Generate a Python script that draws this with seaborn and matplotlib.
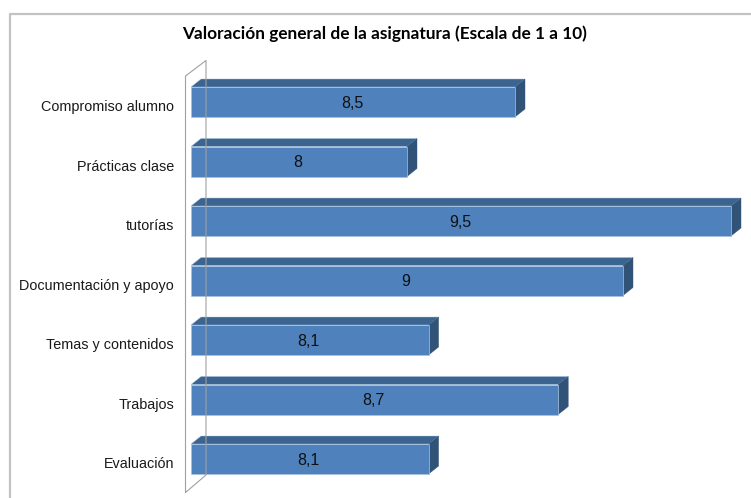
import numpy as np
import pandas as pd
import seaborn as sns
import matplotlib.pyplot as plt
from matplotlib.lines import Line2D
from matplotlib.patches import Polygon
from matplotlib.transforms import ScaledTranslation

categorias = ['Compromiso alumno', 'Prácticas clase', 'tutorías', 'Documentación y apoyo',
              'Temas y contenidos', 'Trabajos', 'Evaluación']
valores = [8.5, 8, 9.5, 9, 8.1, 8.7, 8.1]
etiquetas = ['8,5', '8', '9,5', '9', '8,1', '8,7', '8,1']
titulo = 'Valoración general de la asignatura (Escala de 1 a 10)'

W, H = 751, 498
X_MIN = 7
PX_POR_UNIDAD = 216.0
PX_POR_CATEGORIA = 59.5
DX, DY = 10, 8   # profundidad del efecto 3D en pixeles

FRENTE = '#4f81bd'
ARRIBA = '#3c6491'
LADO = '#325378'
BORDE = '#a9c2e0'
GRIS = '#a0a0a0'

sns.set_theme(style='white')
plt.rcParams['font.family'] = ['Liberation Sans']

fig = plt.figure(figsize=(W / 100, H / 100), dpi=100)

# eje colocado en pixeles: x=7 cae en 191 y las categorias cada 59.5 px
izq, der = 191, W
arriba, abajo = 102 - PX_POR_CATEGORIA / 2, 459 + PX_POR_CATEGORIA / 2
ax = fig.add_axes([izq / W, 1 - abajo / H, (der - izq) / W, (abajo - arriba) / H])
ax.patch.set_alpha(0)

def fig_line(xs, ys, color=GRIS, lw=1.0):
    fig.add_artist(Line2D([x / W for x in xs], [1 - y / H for y in ys],
                          color=color, lw=lw, solid_capstyle='butt'))

# marco exterior y pared del grafico
fig_line([10, 10, W], [H, 14, 14], color='#c2c2c2', lw=1.6)
fig_line([185.5, 185.5, 206, 206, 185.5], [492.5, 76, 60.5, 475, 492.5], lw=0.8)

df = pd.DataFrame({'categoria': categorias, 'valor': valores})
sns.barplot(data=df, x='valor', y='categoria', color=FRENTE, saturation=1,
            width=30 / PX_POR_CATEGORIA, ax=ax, zorder=3)
ax.set_xlim(X_MIN, X_MIN + (der - izq) / PX_POR_UNIDAD)
ax.set_ylim(len(categorias) - 0.5, -0.5)

dx = DX / PX_POR_UNIDAD
dy = DY / PX_POR_CATEGORIA
for p, v, txt in zip(ax.patches, valores, etiquetas):
    p.set_x(X_MIN)
    p.set_width(v - X_MIN)
    p.set_edgecolor(BORDE)
    p.set_linewidth(0.5)
    y0, y1 = p.get_y(), p.get_y() + p.get_height()
    # cara superior y lateral
    ax.add_patch(Polygon([(X_MIN, y0), (X_MIN + dx, y0 - dy), (v + dx, y0 - dy), (v, y0)],
                         facecolor=ARRIBA, edgecolor=BORDE, lw=0.3, clip_on=False, zorder=2))
    ax.add_patch(Polygon([(v, y0), (v + dx, y0 - dy), (v + dx, y1 - dy), (v, y1)],
                         facecolor=LADO, edgecolor=LADO, lw=0.3, clip_on=False, zorder=2))
    ax.annotate(txt, ((X_MIN + v) / 2, (y0 + y1) / 2), xytext=(-1, -1), textcoords='offset pixels',
                ha='center', va='center', fontsize=11.5, color='#101010', zorder=4)

ax.set_xlabel('')
ax.set_ylabel('')
ax.set_xticks([])
ax.tick_params(axis='y', length=0, pad=17 * 0.72, labelsize=10.4, labelcolor='#1a1a1a')
for lab in ax.get_yticklabels():
    lab.set_verticalalignment('center')
    lab.set_transform(lab.get_transform() + ScaledTranslation(0, -5.2 / 100, fig.dpi_scale_trans))
sns.despine(ax=ax, left=True, bottom=True)

fig.text(385 / W, 1 - 33.5 / H, titulo, ha='center', va='center', fontsize=12.45,
         fontweight='bold', family='Lato', color='#000000')

fig.savefig('out.png', dpi=100)
